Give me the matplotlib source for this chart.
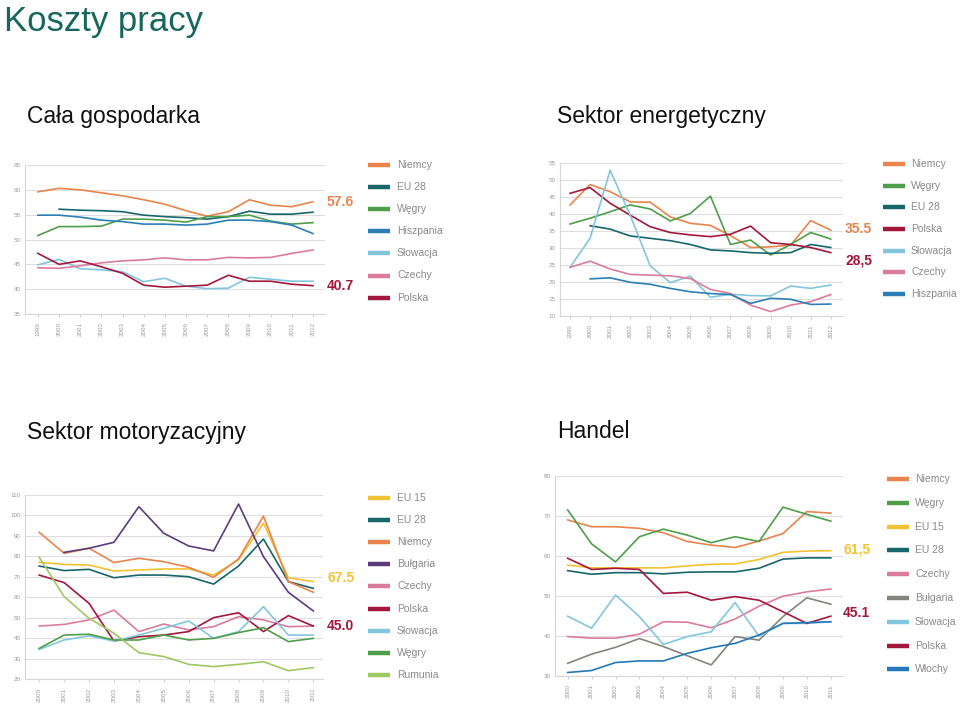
import matplotlib
matplotlib.use("Agg")
import matplotlib.pyplot as plt
import matplotlib.transforms as mtransforms

plt.rcParams['font.family'] = ['Liberation Sans', 'DejaVu Sans']

# ---------------- colours ----------------
COL = {
    'Niemcy': '#e8844c', 'EU 28': '#17666a', 'Węgry': '#4f9e4a', 'Hiszpania': '#2c7fb5',
    'Słowacja': '#82c6de', 'Czechy': '#db7c9c', 'Polska': '#a3173d', 'EU 15': '#f3c233',
    'Bułgaria': '#5c3c7c', 'Rumunia': '#9dc862', 'Włochy': '#2379b7',
}

# ---------------- data: Cała gospodarka ----------------
years1 = list(range(1999, 2013))
g_niemcy = [59.6, 60.3, 60.0, 59.4, 58.8, 58.0, 57.1, 55.8, 54.7, 55.6, 58.0, 56.9, 56.6, 57.6]
g_eu28 = [None, 56.1, 55.9, 55.8, 55.6, 54.9, 54.6, 54.4, 54.1, 54.6, 55.7, 55.1, 55.1, 55.5]
g_wegry = [50.8, 52.6, 52.6, 52.7, 54.1, 54.1, 53.9, 53.5, 54.6, 54.6, 54.9, 53.7, 53.1, 53.4]
g_hiszpania = [54.9, 54.9, 54.5, 53.9, 53.6, 53.1, 53.1, 52.9, 53.1, 53.9, 53.9, 53.6, 52.9, 51.2]
g_slowacja = [44.9, 46.0, 44.1, 43.9, 43.5, 41.5, 42.2, 40.6, 40.1, 40.2, 42.4, 42.0, 41.6, 41.6]
g_czechy = [44.3, 44.2, 44.7, 45.3, 45.7, 45.9, 46.3, 45.9, 45.9, 46.4, 46.3, 46.4, 47.2, 47.9]
g_polska = [47.2, 45.0, 45.7, 44.5, 43.2, 40.8, 40.4, 40.6, 40.8, 42.8, 41.6, 41.6, 41.0, 40.7]

# ---------------- data: Sektor energetyczny ----------------
years2 = list(range(1999, 2013))
e_niemcy = [42.6, 48.6, 46.5, 43.5, 43.4, 39.1, 37.2, 36.6, 33.6, 30.1, 30.3, 30.8, 38.0, 35.2]
e_wegry = [37.0, 38.7, 40.6, 42.6, 41.4, 37.9, 40.1, 45.2, 31.0, 32.3, 27.9, 31.0, 34.5, 32.6]
e_eu28 = [None, 36.5, 35.5, 33.5, 32.8, 32.1, 31.0, 29.4, 29.1, 28.6, 28.4, 28.6, 31.0, 30.1]
e_polska = [46.0, 47.7, 43.1, 39.6, 36.2, 34.5, 33.8, 33.3, 34.0, 36.4, 31.5, 31.0, 30.1, 28.6]
e_slowacja = [24.3, 32.8, 52.8, 39.6, 24.7, 19.8, 21.7, 15.5, 16.4, 16.0, 15.9, 18.8, 18.1, 19.1]
e_czechy = [24.3, 26.1, 23.8, 22.2, 22.0, 21.8, 21.0, 17.8, 16.6, 13.2, 11.3, 13.2, 14.2, 16.3]
e_hiszpania = [None, 20.9, 21.2, 19.9, 19.3, 18.1, 17.1, 16.6, 16.3, 13.7, 15.2, 14.9, 13.4, 13.5]

# ---------------- data: Sektor motoryzacyjny ----------------
years3 = list(range(2000, 2012))
m_eu15 = [77.1, 76.1, 75.8, 72.9, 73.4, 73.9, 73.9, 70.9, 78.3, 96.2, 69.6, 67.7]
m_eu28 = [75.3, 73.1, 73.7, 69.6, 70.9, 70.9, 70.1, 66.5, 75.3, 88.5, 67.7, 64.4]
m_niemcy = [91.8, 81.5, 84.0, 77.0, 79.1, 77.4, 74.7, 69.8, 78.8, 99.7, 67.7, 62.5]
m_bulgaria = [None, 82.0, 84.0, 86.9, 104.3, 91.3, 85.1, 82.7, 105.6, 79.9, 62.5, 53.4]
m_czechy = [46.0, 46.8, 49.0, 53.8, 43.3, 47.0, 44.1, 45.7, 50.6, 49.0, 45.7, 46.0]
m_polska = [70.9, 67.2, 57.1, 38.7, 40.8, 41.6, 43.3, 50.1, 52.5, 43.3, 51.1, 46.0]
m_slowacja = [34.6, 39.2, 41.2, 38.7, 41.6, 44.9, 48.5, 40.0, 43.3, 55.5, 41.6, 41.6]
m_wegry = [35.1, 41.6, 42.0, 39.2, 39.2, 41.6, 39.2, 40.0, 42.8, 45.2, 38.4, 40.0]
m_rumunia = [79.6, 60.4, 49.8, 42.5, 33.0, 31.1, 27.3, 26.2, 27.3, 28.6, 24.2, 25.7]

# ---------------- data: Handel ----------------
years4 = list(range(2000, 2012))
h_niemcy = [69.0, 67.3, 67.3, 66.9, 65.8, 63.6, 62.7, 62.1, 63.7, 65.6, 71.1, 70.7]
h_wegry = [71.5, 63.0, 58.5, 64.8, 66.7, 65.2, 63.3, 64.8, 63.6, 72.2, 70.4, 68.7]
h_eu15 = [57.7, 57.0, 57.0, 57.0, 57.0, 57.5, 57.9, 58.0, 59.1, 60.9, 61.2, 61.3]
h_eu28 = [56.3, 55.4, 55.8, 55.8, 55.5, 55.9, 56.0, 56.0, 56.9, 59.2, 59.5, 59.5]
h_czechy = [39.8, 39.4, 39.4, 40.4, 43.5, 43.4, 42.0, 44.2, 47.4, 49.9, 51.0, 51.7]
h_bulgaria = [33.1, 35.4, 37.1, 39.3, 37.3, 35.0, 32.7, 39.8, 38.9, 44.8, 49.5, 47.9]
h_slowacja = [44.9, 41.9, 50.2, 44.8, 37.8, 39.8, 41.0, 48.3, 39.9, 43.1, 43.1, 43.5]
h_polska = [59.4, 56.6, 56.9, 56.6, 50.6, 50.9, 48.9, 49.8, 48.9, 46.0, 43.1, 44.9]
h_wlochy = [30.8, 31.3, 33.3, 33.7, 33.7, 35.6, 37.0, 38.1, 40.2, 43.1, 43.3, 43.5]

panels = [
    dict(title='Cała gospodarka', years=years1,
         series=[('Niemcy', g_niemcy), ('EU 28', g_eu28), ('Węgry', g_wegry), ('Hiszpania', g_hiszpania),
                 ('Słowacja', g_slowacja), ('Czechy', g_czechy), ('Polska', g_polska)],
         ylim=(35, 65), yticks=range(35, 66, 5), xlim=(1998.39, 2012.57),
         rect=[25 / 960, 1 - 314 / 706, 300 / 960, 149 / 706],
         labels=[('57.6', 57.6, 'Niemcy'), ('40.7', 40.7, 'Polska')],
         lab_x=327, title_xy=(27, 116),
         leg=(368, 165, 22.1, 397)),
    dict(title='Sektor energetyczny', years=years2,
         series=[('Niemcy', e_niemcy), ('Węgry', e_wegry), ('EU 28', e_eu28), ('Polska', e_polska),
                 ('Słowacja', e_slowacja), ('Czechy', e_czechy), ('Hiszpania', e_hiszpania)],
         ylim=(10, 55), yticks=range(10, 56, 5), xlim=(1998.5, 2012.61),
         rect=[560 / 960, 1 - 316 / 706, 283 / 960, 153.3 / 706],
         labels=[('35.5', 35.5, 'Niemcy'), ('28,5', 26.2, 'Polska')],
         lab_x=845, title_xy=(557, 116),
         leg=(883, 164, 21.7, 911)),
    dict(title='Sektor motoryzacyjny', years=years3,
         series=[('EU 15', m_eu15), ('EU 28', m_eu28), ('Niemcy', m_niemcy), ('Bułgaria', m_bulgaria),
                 ('Czechy', m_czechy), ('Polska', m_polska), ('Słowacja', m_slowacja), ('Węgry', m_wegry),
                 ('Rumunia', m_rumunia)],
         ylim=(20, 110), yticks=range(20, 111, 10), xlim=(1999.43, 2011.39),
         rect=[25 / 960, 1 - 679.3 / 706, 298 / 960, 184.3 / 706],
         labels=[('67.5', 69.5, 'EU 15'), ('45.0', 46.0, 'Polska')],
         lab_x=327, title_xy=(27, 432),
         leg=(368, 498, 22.1, 397)),
    dict(title='Handel', years=years4,
         series=[('Niemcy', h_niemcy), ('Węgry', h_wegry), ('EU 15', h_eu15), ('EU 28', h_eu28),
                 ('Czechy', h_czechy), ('Bułgaria', h_bulgaria), ('Słowacja', h_slowacja), ('Polska', h_polska),
                 ('Włochy', h_wlochy)],
         ylim=(30, 80), yticks=range(30, 81, 10), xlim=(1999.47, 2011.51),
         rect=[555 / 960, 1 - 675.7 / 706, 288 / 960, 199.7 / 706],
         labels=[('61,5', 61.5, 'EU 15'), ('45.1', 45.6, 'Polska')],
         lab_x=843, title_xy=(557, 432),
         leg=(887, 479, 23.8, 915)),
]

W, H = 960, 706
fig = plt.figure(figsize=(9.6, 7.06), dpi=100)
fig.patch.set_facecolor('white')

fig.text(4 / W, 1 - 21 / H, 'Koszty pracy', fontsize=25, color='#17675f', ha='left', va='center')

for pi, p in enumerate(panels):
    ax = fig.add_axes(p['rect'])
    fig.text(p['title_xy'][0] / W, 1 - p['title_xy'][1] / H, p['title'], fontsize=16.5,
             color='#111111', ha='left', va='center')
    handles = []
    for name, vals in p['series']:
        xs = [y for y, v in zip(p['years'], vals) if v is not None]
        vs = [v for v in vals if v is not None]
        c = COL[name]
        if pi == 3 and name == 'Bułgaria':
            c = '#85857d'
        ln, = ax.plot(xs, vs, color=c, lw=1.2, solid_joinstyle='round')
        handles.append((ln, name, c))
    ax.set_ylim(*p['ylim'])
    ax.set_xlim(*p['xlim'])
    ax.set_yticks(list(p['yticks']))
    ax.set_xticks(p['years'])
    ax.set_xticklabels([str(y) for y in p['years']], rotation=90)
    ax.tick_params(axis='both', labelsize=4.5, labelcolor='#9a9a9a', length=0, pad=3)
    ax.tick_params(axis='x', length=2, color='#d0d0d0', pad=4)
    ax.yaxis.grid(True, color='#dedede', lw=0.8)
    ax.set_axisbelow(True)
    for s in ['top', 'right']:
        ax.spines[s].set_visible(False)
    for s in ['left', 'bottom']:
        ax.spines[s].set_color('#d6d6d6')
        ax.spines[s].set_linewidth(0.8)
    # end labels
    trans = mtransforms.blended_transform_factory(fig.transFigure, ax.transData)
    for txt, yv, nm in p['labels']:
        ax.text(p['lab_x'] / W, yv, txt, transform=trans, color=COL[nm], fontsize=10,
                fontweight='bold', ha='left', va='center', clip_on=False)
    # legend (manual layout in figure coords)
    lx, ly0, dy, tx = p['leg']
    for i, (ln, name, c) in enumerate(handles):
        yy = 1 - (ly0 + i * dy) / H
        fig.add_artist(plt.Line2D([lx / W, (lx + 22) / W], [yy, yy], color=c, lw=3.2,
                                  transform=fig.transFigure, solid_capstyle='butt'))
        fig.text(tx / W, yy, name, fontsize=7.5, color='#8a8a8a', ha='left', va='center')

fig.savefig('out.png', dpi=100, facecolor='white')
